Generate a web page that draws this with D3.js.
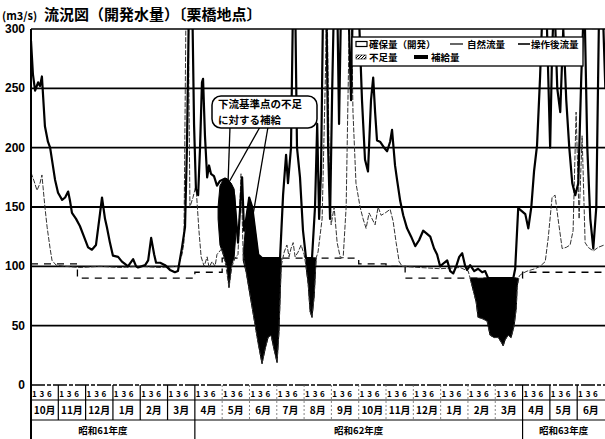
<!DOCTYPE html>
<html>
<head>
<meta charset="utf-8">
<script src="https://cdn.jsdelivr.net/npm/d3@7"></script>
<style>
  body { margin: 0; background: #fff; }
  text { font-family: "Noto Sans CJK JP", "Liberation Sans", sans-serif; font-weight: bold; fill: #000; }
</style>
</head>
<body>
<div id="chart"></div>
<script>
//  data (t = months from 1 Oct 1986, value in m3/s)
var MONTHS = ["10月","11月","12月","1月","2月","3月","4月","5月","6月","7月","8月","9月","10月","11月","12月","1月","2月","3月","4月","5月","6月"];
var SUB_LABELS = ["1","3","6"];
var FISCAL_NAMES = ["昭和61年度","昭和62年度","昭和63年度"];
var FISCAL_STARTS = [0, 6, 18, 21];
var Y_TICKS = [0, 50, 100, 150, 200, 250, 300];

// 操作後流量 (thick)
var OPERATED = [
  [0.00,290],[0.07,262],[0.15,248],[0.26,255],[0.33,252],[0.40,260],[0.51,218],[0.62,205],[0.70,200],
  [0.88,173],[0.99,162],[1.14,156],[1.25,158],[1.36,163],[1.43,155],[1.50,145],[1.65,140],[1.79,134],
  [1.94,125],[2.09,116],[2.23,114],[2.38,118],[2.53,145],[2.60,158],[2.71,140],[2.78,133],[2.89,120],
  [3.00,109],[3.19,108],[3.33,104],[3.44,102],[3.55,100],[3.74,106],[3.85,100],[3.92,99],[4.18,101],
  [4.29,105],[4.40,124],[4.51,110],[4.58,103],[4.73,103],[4.91,101],[5.09,97],[5.27,95],[5.38,96],
  [5.53,116],[5.64,133],[5.71,200],[5.79,330],[5.90,330],[5.97,220],[6.04,165],[6.12,160],[6.19,200],
  [6.26,255],[6.30,258],[6.37,210],[6.45,175],[6.52,185],[6.59,178],[6.70,176],[6.81,168],[6.92,172],
  [7.11,174],[7.29,170],[7.44,160],[7.51,140],[7.58,120],[7.66,150],[7.73,175],[7.80,130],[7.88,140],
  [7.99,158],[8.10,150],[8.21,130],[8.32,110],[8.46,107],[8.75,107],[9.12,107],[9.23,160],[9.34,194],
  [9.41,170],[9.52,200],[9.60,330],[9.67,330],[9.74,200],[9.85,175],[9.96,130],[10.07,107],[10.29,107],
  [10.40,150],[10.48,220],[10.55,140],[10.62,180],[10.70,330],[10.81,330],[10.88,200],[10.95,140],
  [11.03,250],[11.10,330],[11.21,330],[11.28,220],[11.36,330],[11.61,330],[11.72,240],[11.79,330],
  [11.98,330],[12.12,240],[12.23,190],[12.34,180],[12.45,240],[12.53,259],[12.60,230],[12.67,206],
  [12.78,205],[12.93,200],[13.04,197],[13.15,205],[13.22,215],[13.33,185],[13.41,172],[13.52,155],
  [13.63,143],[13.77,132],[13.92,125],[14.07,117],[14.21,122],[14.36,130],[14.47,128],[14.62,125],
  [14.76,115],[14.87,110],[14.98,100],[15.13,103],[15.24,105],[15.35,96],[15.46,94],[15.57,100],
  [15.68,108],[15.79,111],[15.90,100],[15.97,97],[16.08,101],[16.23,96],[16.37,98],[16.52,95],
  [16.63,96],[16.74,90],[17.66,90],[17.73,98],[17.84,149],[17.95,147],[18.10,144],[18.21,132],
  [18.32,150],[18.42,180],[18.53,202],[18.64,259],[18.75,330],[18.86,330],[18.94,260],[19.01,200],
  [19.08,280],[19.16,330],[19.27,250],[19.38,230],[19.49,300],[19.60,240],[19.71,200],[19.82,170],
  [19.93,160],[20.04,170],[20.15,260],[20.26,330],[20.37,200],[20.48,140],[20.59,115],[20.70,150],
  [20.81,330],[20.92,330],[21.03,250]
];

// 自然流量 (thin)
var NATURAL = [
  [0.00,179],[0.11,172],[0.22,164],[0.33,170],[0.40,177],[0.44,167],[0.51,150],[0.59,133],[0.70,115],
  [0.77,105],[0.92,101],[1.25,100],[1.79,99],[2.53,100],[3.26,99],[3.99,100],[4.73,99],[5.38,100],
  [5.53,110],[5.60,120],[5.68,330],[5.75,330],[5.82,150],[5.93,158],[6.04,168],[6.15,130],[6.23,108],
  [6.34,100],[6.45,108],[6.52,99],[6.63,104],[6.74,100],[6.81,110],[6.99,115],[7.14,100],[7.25,82],
  [7.36,100],[7.47,107],[7.58,110],[7.69,178],[7.77,110],[7.88,95],[7.99,80],[8.10,65],[8.21,50],
  [8.32,35],[8.46,18],[8.57,30],[8.68,40],[8.79,42],[8.90,30],[9.01,19],[9.08,45],[9.16,100],
  [9.27,112],[9.37,118],[9.45,108],[9.52,115],[9.60,120],[9.67,108],[9.78,112],[9.89,118],[10.00,110],
  [10.07,100],[10.15,85],[10.22,62],[10.29,57],[10.37,75],[10.44,107],[10.51,112],[10.66,140],
  [10.77,250],[10.84,330],[10.92,180],[10.99,135],[11.10,150],[11.21,120],[11.32,108],[11.43,107],
  [11.54,150],[11.65,300],[11.72,330],[11.79,230],[11.90,170],[12.05,150],[12.16,140],[12.27,132],
  [12.38,145],[12.49,140],[12.60,135],[12.71,150],[12.82,143],[12.97,145],[13.15,148],[13.26,138],
  [13.37,120],[13.48,104],[13.59,100],[14.25,99],[14.98,98],[15.71,99],[16.01,96],[16.08,90],
  [16.19,80],[16.30,70],[16.37,57],[16.52,56],[16.70,54],[16.81,42],[16.96,40],[17.11,40],[17.22,36],
  [17.29,33],[17.36,38],[17.47,42],[17.58,40],[17.69,50],[17.77,65],[17.80,82],[17.88,92],[17.99,94],
  [18.17,96],[18.46,98],[18.64,100],[18.83,104],[18.94,124],[19.08,158],[19.19,160],[19.30,140],
  [19.45,115],[19.60,116],[19.74,118],[19.85,130],[19.96,230],[20.07,140],[20.18,210],[20.29,120],
  [20.40,116],[20.59,113],[20.77,116],[20.99,118]
];

// 確保量（開発）
var SECURED = [[0,102],[1.7,90],[6.0,95],[7.0,107],[12.0,102],[13.0,100],[13.7,90],[18.0,95],[21,95]];

// 補給量 [t, top, bottom]
var SUPPLY_1 = [[6.85,150,140],[6.92,168,118],[7.07,174,108],[7.18,174,100],[7.25,172,82],[7.33,170,100],[7.44,165,108],[7.51,140,130]];
var SUPPLY_2 = [[7.77,110,105],[7.88,140,95],[7.99,158,80],[8.10,150,65],[8.21,130,50],[8.32,110,35],[8.46,107,18],
  [8.57,107,30],[8.68,107,40],[8.79,107,42],[8.90,107,30],[9.01,107,19],[9.08,107,45],[9.16,107,100]];
var SUPPLY_3 = [[10.07,107,100],[10.15,107,85],[10.22,107,62],[10.29,107,57],[10.37,107,75],[10.44,107,107]];
var SUPPLY_4 = [[16.08,90,90],[16.19,90,80],[16.30,90,70],[16.37,90,57],[16.52,90,56],[16.70,90,54],[16.81,90,42],
  [16.96,90,40],[17.11,90,40],[17.22,90,36],[17.29,90,33],[17.36,90,38],[17.47,90,42],[17.58,90,40],
  [17.69,90,50],[17.77,90,65],[17.80,90,82],[17.84,90,90]];

//  main
function main() {
  draw_chart();
}

function draw_chart() {
  const w = 605, h = 439
  const margin = ({top: 29, right: 0, bottom: 54, left: 31})

  const svg = d3.select("#chart").append("svg").attr("width", w).attr("height", h)

  const x = d3.scaleLinear().domain([0, 21]).range([margin.left, 604.5])
  const y = d3.scaleLinear().domain([0, 300]).range([h - margin.bottom, margin.top])

  svg.append("clipPath").attr("id", "plot")
    .append("rect").attr("x", margin.left).attr("y", margin.top)
    .attr("width", w - margin.left).attr("height", y(0) - margin.top)

  //  title
  svg.append("text").attr("x", 2).attr("y", 20).style("font-size", "11px").text("(m3/s)")
  svg.append("text").attr("x", 44).attr("y", 20).style("font-size", "15px").text("流況図（開発水量）〔栗橋地点〕")

  //  grid
  svg.append("g").selectAll("line").data(Y_TICKS.filter(d => d > 0 && d < 300)).enter()
    .append("line")
    .attr("x1", margin.left).attr("x2", w)
    .attr("y1", d => y(d)).attr("y2", d => y(d))
    .attr("stroke", "#000").attr("stroke-width", 1.8)

  const yAxis = d3.axisLeft(y).tickValues(Y_TICKS).tickSize(0).tickPadding(6)
  const ya = svg.append("g").attr("transform", `translate(${margin.left},0)`).call(yAxis)
  ya.select(".domain").remove()
  ya.selectAll("text").style("font-family", "Liberation Sans, Arial, sans-serif").style("font-size", "12px").attr("dy", "0.3em")

  //  data layers
  const plot = svg.append("g").attr("clip-path", "url(#plot)")

  const area = d3.area().x(d => x(d[0])).y0(d => y(d[2])).y1(d => y(d[1]))
  ;[SUPPLY_1, SUPPLY_2, SUPPLY_3, SUPPLY_4].forEach(s => {
    plot.append("path").datum(s).attr("d", area).attr("fill", "#000").attr("stroke", "#000").attr("stroke-width", 1)
  })

  const line = d3.line().x(d => x(d[0])).y(d => y(d[1]))

  plot.append("path").datum(SECURED)
    .attr("d", d3.line().x(d => x(d[0])).y(d => y(d[1])).curve(d3.curveStepAfter))
    .attr("fill", "none").attr("stroke", "#000").attr("stroke-width", 1.3).attr("stroke-dasharray", "7,6")

  plot.append("path").datum(NATURAL).attr("d", line)
    .attr("fill", "none").attr("stroke", "#333").attr("stroke-width", 1).attr("stroke-dasharray", "5,1.5")

  plot.append("path").datum(OPERATED).attr("d", line)
    .attr("fill", "none").attr("stroke", "#000").attr("stroke-width", 2.2).attr("stroke-linejoin", "round")

  //  frame
  svg.append("line").attr("x1", margin.left).attr("x2", w).attr("y1", margin.top).attr("y2", margin.top)
    .attr("stroke", "#000").attr("stroke-width", 1.6)
  svg.append("line").attr("x1", margin.left).attr("x2", margin.left).attr("y1", margin.top).attr("y2", h)
    .attr("stroke", "#000").attr("stroke-width", 2)
  svg.append("line").attr("x1", margin.left).attr("x2", w).attr("y1", y(0)).attr("y2", y(0))
    .attr("stroke", "#000").attr("stroke-width", 1.6).attr("stroke-dasharray", "14,2,4,2")

  //  time table
  const r1 = y(0), r2 = 400, r3 = 420
  svg.append("line").attr("x1", margin.left).attr("x2", w).attr("y1", r2).attr("y2", r2).attr("stroke", "#000").attr("stroke-width", 1.2)
  svg.append("line").attr("x1", margin.left).attr("x2", w).attr("y1", r3).attr("y2", r3).attr("stroke", "#000").attr("stroke-width", 1.2)

  const tbl = svg.append("g")
  tbl.selectAll("line.m").data(d3.range(1, MONTHS.length)).enter()
    .append("line").attr("class", "m")
    .attr("x1", d => x(d)).attr("x2", d => x(d)).attr("y1", r1).attr("y2", r3)
    .attr("stroke", d => (d <= 6 || d >= 18) ? "#000" : "#666")
    .attr("stroke-width", d => (d <= 6 || d >= 18) ? 1.2 : 0.8)
    .attr("stroke-dasharray", d => (d <= 6 || d >= 18) ? null : "2,2")

  tbl.selectAll("text.m").data(MONTHS).enter()
    .append("text").attr("class", "m")
    .attr("x", (d, i) => x(i + 0.5)).attr("y", 414)
    .attr("text-anchor", "middle").style("font-size", "10px")
    .text(d => d)

  const subs = []
  MONTHS.forEach((m, i) => SUB_LABELS.forEach((s, j) => subs.push({t: i + [0.12, 0.4, 0.67][j], s: s})))
  tbl.selectAll("text.s").data(subs).enter()
    .append("text").attr("class", "s")
    .attr("x", d => x(d.t)).attr("y", 397)
    .attr("text-anchor", "middle").style("font-size", "8px")
    .text(d => d.s)

  tbl.selectAll("line.f").data(FISCAL_STARTS.slice(1, 3)).enter()
    .append("line").attr("class", "f")
    .attr("x1", d => x(d)).attr("x2", d => x(d)).attr("y1", r3).attr("y2", h)
    .attr("stroke", "#000").attr("stroke-width", 1.2)

  tbl.selectAll("text.f").data(FISCAL_NAMES).enter()
    .append("text").attr("class", "f")
    .attr("x", (d, i) => (x(FISCAL_STARTS[i]) + x(FISCAL_STARTS[i + 1])) / 2 - (i == 0 ? 10 : 0))
    .attr("y", 434).attr("text-anchor", "middle").style("font-size", "9.5px")
    .text(d => d)

  //  legend
  const lg = svg.append("g")
  lg.append("rect").attr("x", 352).attr("y", 37).attr("width", 231).attr("height", 29)
    .attr("fill", "#fff").attr("stroke", "#000").attr("stroke-width", 1.3)
  lg.append("rect").attr("x", 356).attr("y", 41.5).attr("width", 11).attr("height", 5)
    .attr("fill", "#fff").attr("stroke", "#000").attr("stroke-width", 1.2)
  lg.append("text").attr("x", 369).attr("y", 48).style("font-size", "9.5px").text("確保量（開発）")
  lg.append("line").attr("x1", 450).attr("x2", 463).attr("y1", 44).attr("y2", 44).attr("stroke", "#000").attr("stroke-width", 1.2)
  lg.append("text").attr("x", 467).attr("y", 48).style("font-size", "9.5px").text("自然流量")
  lg.append("line").attr("x1", 518).attr("x2", 530).attr("y1", 44).attr("y2", 44).attr("stroke", "#000").attr("stroke-width", 1.6)
  lg.append("text").attr("x", 531).attr("y", 48).style("font-size", "9.5px").text("操作後流量")

  const pat = svg.append("defs").append("pattern").attr("id", "hatch")
    .attr("width", 3).attr("height", 3).attr("patternUnits", "userSpaceOnUse")
  pat.append("path").attr("d", "M0,3 L3,0").attr("stroke", "#000").attr("stroke-width", 1)
  lg.append("rect").attr("x", 356).attr("y", 55).attr("width", 10).attr("height", 4)
    .attr("fill", "url(#hatch)").attr("stroke", "#000").attr("stroke-width", 0.6)
  lg.append("text").attr("x", 369).attr("y", 61).style("font-size", "9.5px").text("不足量")
  lg.append("rect").attr("x", 414).attr("y", 55).attr("width", 14).attr("height", 4).attr("fill", "#000")
  lg.append("text").attr("x", 431).attr("y", 61).style("font-size", "9.5px").text("補給量")

  //  callout
  const co = svg.append("g")
  const ptr = [[[230, 127], [228, 184]], [[260, 127], [228, 184]], [[268, 127], [253, 215]]]
  co.selectAll("line").data(ptr).enter().append("line")
    .attr("x1", d => d[0][0]).attr("y1", d => d[0][1]).attr("x2", d => d[1][0]).attr("y2", d => d[1][1])
    .attr("stroke", "#000").attr("stroke-width", 1.3)
  co.append("rect").attr("x", 212).attr("y", 96).attr("width", 105).attr("height", 32).attr("rx", 9)
    .attr("fill", "#fff").attr("stroke", "#000").attr("stroke-width", 1.5)
  co.append("text").attr("x", 218).attr("y", 108).style("font-size", "10.5px").text("下流基準点の不足")
  co.append("text").attr("x", 218).attr("y", 124).style("font-size", "10.5px").text("に対する補給")

  return svg.node()
}

main();
</script>
</body>
</html>
